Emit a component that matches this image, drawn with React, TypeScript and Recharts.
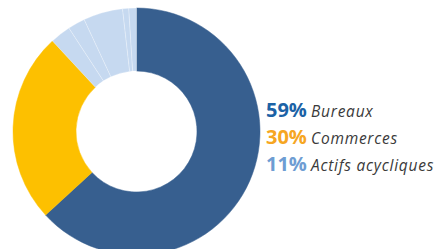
import React from "react";
import { Cell, Pie, PieChart } from "recharts";

// slices as drawn (clockwise from top); the light blue ring is split in 5 parts
const sliceNames = [
  "Bureaux",
  "Commerces",
  "Actifs acycliques 1",
  "Actifs acycliques 2",
  "Actifs acycliques 3",
  "Actifs acycliques 4",
  "Actifs acycliques 5",
];
const sliceValues = [63.1, 24.9, 2.7, 2.25, 5.15, 0.8, 1.0];
const sliceColors = ["#375f8f", "#fdc000", "#c6d9f0", "#c6d9f0", "#c6d9f0", "#c6d9f0", "#c6d9f0"];

// legend text
const legendShares = ["59%", "30%", "11%"];
const legendLabels = ["Bureaux", "Commerces", "Actifs acycliques"];
const legendColors = ["#1b62a6", "#f6a622", "#6e9dd3"];

const data = sliceNames.map((name, i) => ({ name, value: sliceValues[i] }));

const LegendBox = () => (
  <div
    style={{
      position: "absolute",
      left: 266,
      top: 97,
      fontFamily: "'Open Sans', sans-serif",
      lineHeight: "26px",
    }}
  >
    {legendShares.map((share, i) => (
      <div key={share} style={{ whiteSpace: "nowrap" }}>
        <span style={{ color: legendColors[i], fontWeight: 700, fontSize: 20 }}>
          {share}
        </span>{" "}
        <span style={{ color: "#3a3a3a", fontStyle: "italic", fontSize: 15.5, letterSpacing: 0.75 }}>
          {legendLabels[i]}
        </span>
      </div>
    ))}
  </div>
);

export default function App() {
  return (
    <div style={{ position: "absolute", left: 0, top: 0, width: 436, height: 249, background: "#fff", overflow: "hidden" }}>
      <PieChart width={436} height={249} margin={{ top: 0, right: 0, bottom: 0, left: 0 }}>
        <Pie
          data={data}
          dataKey="value"
          cx={136.5}
          cy={131.5}
          innerRadius={60.5}
          outerRadius={123.5}
          startAngle={90}
          endAngle={-270}
          isAnimationActive={false}
        >
          {data.map((entry, index) => (
            <Cell
              key={`cell-${index}`}
              fill={sliceColors[index]}
              stroke={index < 2 ? sliceColors[index] : "#ffffff"}
              strokeWidth={0.5}
              strokeOpacity={index < 2 ? 1 : 0.5}
            />
          ))}
        </Pie>
      </PieChart>
      <LegendBox />
    </div>
  );
}
